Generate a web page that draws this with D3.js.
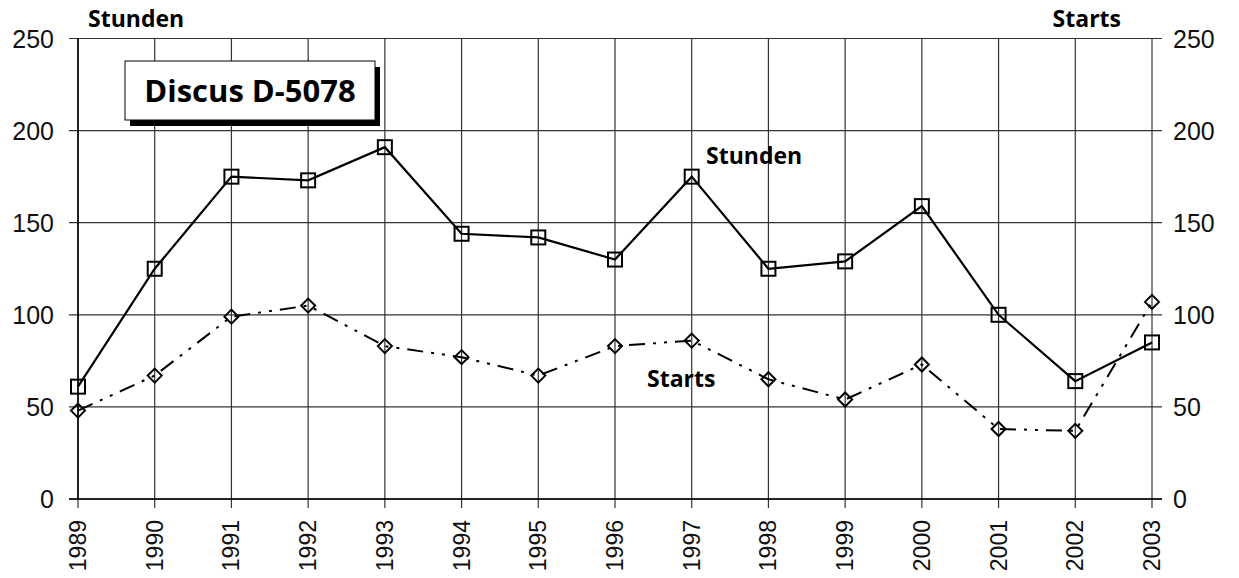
<!DOCTYPE html>
<html>
<head>
<meta charset="utf-8">
<script src="https://cdn.jsdelivr.net/npm/d3@7"></script>
<style>
  body { margin: 0; background: #fff; }
</style>
</head>
<body>
<div id="chart"></div>
<script>
let years = [1989, 1990, 1991, 1992, 1993, 1994, 1995, 1996, 1997, 1998, 1999, 2000, 2001, 2002, 2003]
let stunden = [61, 125, 175, 173, 191, 144, 142, 130, 175, 125, 129, 159, 100, 64, 85]
let starts = [48, 67, 99, 105, 83, 77, 67, 83, 86, 65, 54, 73, 38, 37, 107]
let yTicks = [0, 50, 100, 150, 200, 250]

let svgWidth = 1239, svgHeight = 578
let margin = {top: 38.5, right: 87, bottom: 79, left: 78}
let width = svgWidth - margin.left - margin.right
let height = svgHeight - margin.top - margin.bottom

let svg = d3.select('#chart')
    .append('svg')
    .attr('width', svgWidth)
    .attr('height', svgHeight)

let chart = svg.append('g')
    .attr('transform', `translate(${margin.left},${margin.top})`)

let xScale = d3.scalePoint()
    .domain(years)
    .range([0, width])

let yScale = d3.scaleLinear()
    .domain([0, 250])
    .range([height, 0])

let numFont = "'Liberation Sans', Arial, sans-serif"
let boldFont = "'Open Sans', sans-serif"

// grid
chart.append('g')
    .selectAll('line')
    .data(years)
    .join('line')
    .attr('x1', d => xScale(d))
    .attr('x2', d => xScale(d))
    .attr('y1', 0)
    .attr('y2', height + 9)
    .attr('stroke', '#333')
    .attr('stroke-width', 1.2)

chart.append('g')
    .selectAll('line')
    .data(yTicks)
    .join('line')
    .attr('x1', -9)
    .attr('x2', width + 10)
    .attr('y1', d => yScale(d))
    .attr('y2', d => yScale(d))
    .attr('stroke', '#333')
    .attr('stroke-width', 1.2)

// axis lines
chart.append('line')
    .attr('x1', 0).attr('x2', 0)
    .attr('y1', 0).attr('y2', height)
    .attr('stroke', '#000').attr('stroke-width', 1.5)
chart.append('line')
    .attr('x1', -9).attr('x2', width + 10)
    .attr('y1', height).attr('y2', height)
    .attr('stroke', '#000').attr('stroke-width', 1.5)

// left tick labels
chart.append('g')
    .selectAll('text')
    .data(yTicks)
    .join('text')
    .attr('x', -24)
    .attr('y', d => yScale(d) + 9)
    .attr('text-anchor', 'end')
    .attr('font-family', numFont)
    .attr('font-size', 25)
    .attr('fill', '#111')
    .text(d => d)

// right tick labels
chart.append('g')
    .selectAll('text')
    .data(yTicks)
    .join('text')
    .attr('x', width + 21)
    .attr('y', d => yScale(d) + 9)
    .attr('text-anchor', 'start')
    .attr('font-family', numFont)
    .attr('font-size', 25)
    .attr('fill', '#111')
    .text(d => d)

// year labels
chart.append('g')
    .selectAll('text')
    .data(years)
    .join('text')
    .attr('transform', d => `translate(${xScale(d) + 8},${height + 21}) rotate(-90)`)
    .attr('text-anchor', 'end')
    .attr('font-family', numFont)
    .attr('font-size', 23)
    .attr('fill', '#111')
    .text(d => d)

// lines
let line = d3.line()
    .x((d, i) => xScale(years[i]))
    .y(d => yScale(d))

chart.append('path')
    .datum(starts)
    .attr('d', line)
    .attr('fill', 'none')
    .attr('stroke', '#000')
    .attr('stroke-width', 2)
    .attr('stroke-dasharray', '16,8,3,8,3,8')

chart.append('path')
    .datum(stunden)
    .attr('d', line)
    .attr('fill', 'none')
    .attr('stroke', '#000')
    .attr('stroke-width', 2.2)

// markers
chart.append('g')
    .selectAll('rect')
    .data(stunden)
    .join('rect')
    .attr('x', (d, i) => xScale(years[i]) - 7)
    .attr('y', d => yScale(d) - 7)
    .attr('width', 14)
    .attr('height', 14)
    .attr('fill', 'none')
    .attr('stroke', '#000')
    .attr('stroke-width', 2)

chart.append('g')
    .selectAll('path')
    .data(starts)
    .join('path')
    .attr('transform', (d, i) => `translate(${xScale(years[i])},${yScale(d)})`)
    .attr('d', 'M0,-7L7,0L0,7L-7,0Z')
    .attr('fill', 'none')
    .attr('stroke', '#000')
    .attr('stroke-width', 2)

// labels
svg.append('text')
    .attr('x', 88).attr('y', 27)
    .attr('font-family', boldFont).attr('font-weight', 'bold').attr('font-size', 23)
    .text('Stunden')
svg.append('text')
    .attr('x', 1121).attr('y', 27)
    .attr('text-anchor', 'end')
    .attr('font-family', boldFont).attr('font-weight', 'bold').attr('font-size', 23)
    .text('Starts')
svg.append('text')
    .attr('x', 706).attr('y', 164)
    .attr('font-family', boldFont).attr('font-weight', 'bold').attr('font-size', 23)
    .text('Stunden')
svg.append('text')
    .attr('x', 647).attr('y', 387)
    .attr('font-family', boldFont).attr('font-weight', 'bold').attr('font-size', 23)
    .text('Starts')

// title box
let titleGroup = svg.append('g')
titleGroup.append('rect')
    .attr('x', 130).attr('y', 67)
    .attr('width', 250).attr('height', 59)
    .attr('fill', '#000')
titleGroup.append('rect')
    .attr('x', 125).attr('y', 61)
    .attr('width', 250).attr('height', 59)
    .attr('fill', '#fff')
    .attr('stroke', '#000')
    .attr('stroke-width', 1)
titleGroup.append('text')
    .attr('x', 250).attr('y', 102)
    .attr('text-anchor', 'middle')
    .attr('font-family', boldFont).attr('font-weight', 'bold').attr('font-size', 31)
    .text('Discus D-5078')
</script>
</body>
</html>
